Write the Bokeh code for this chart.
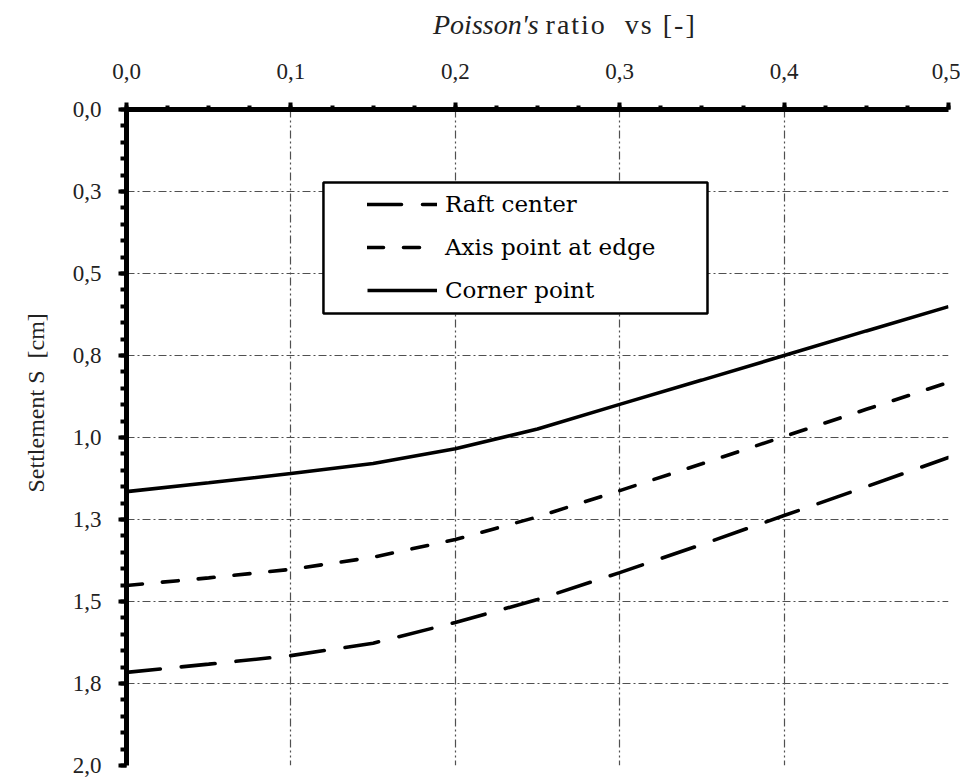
import math
from bokeh.plotting import figure
from bokeh.models import (Range1d, FixedTicker, Legend, LegendItem, BoxAnnotation, Div, Title)
from bokeh.layouts import column
from bokeh.embed import file_html
from bokeh.resources import INLINE

# ---- data ----
poisson = [0.0, 0.05, 0.1, 0.15, 0.2, 0.25, 0.3, 0.35, 0.4, 0.45, 0.5]
raft_center = [1.716, 1.691, 1.665, 1.627, 1.564, 1.494, 1.412, 1.326, 1.238, 1.150, 1.061]
axis_edge = [1.451, 1.428, 1.402, 1.365, 1.311, 1.242, 1.162, 1.080, 0.997, 0.914, 0.832]
corner_point = [1.165, 1.138, 1.110, 1.079, 1.034, 0.974, 0.899, 0.825, 0.750, 0.675, 0.601]

x_ticks = [0.0, 0.1, 0.2, 0.3, 0.4, 0.5]
x_tick_labels = ["0,0", "0,1", "0,2", "0,3", "0,4", "0,5"]
y_ticks = [0.0, 0.25, 0.5, 0.75, 1.0, 1.25, 1.5, 1.75, 2.0]
y_tick_labels = ["0,0", "0,3", "0,5", "0,8", "1,0", "1,3", "1,5", "1,8", "2,0"]
x_minor = [i * 0.025 for i in range(21)]
y_minor = [i * 0.05 for i in range(41)]

FONT = "Liberation Serif"
LEGEND_FONT = "DejaVu Serif"

p = figure(frame_width=822, frame_height=656,
           x_range=Range1d(0, 0.5), y_range=Range1d(2.0, 0.0),
           x_axis_location="above", y_axis_location="left",
           output_backend="svg", toolbar_location=None,
           min_border_left=126, min_border_top=54,
           min_border_right=12, min_border_bottom=14)
p.outline_line_color = None
p.background_fill_color = "white"

# axes
for ax, ticks, labels, minor in ((p.xaxis[0], x_ticks, x_tick_labels, x_minor),
                                 (p.yaxis[0], y_ticks, y_tick_labels, y_minor)):
    ax.ticker = FixedTicker(ticks=ticks, minor_ticks=minor)
    ax.major_label_overrides = {t: l for t, l in zip(ticks, labels)}
    ax.axis_line_width = 5
    ax.axis_line_color = "black"
    ax.major_tick_in = 0
    ax.minor_tick_in = 0
    ax.major_tick_line_width = 4
    ax.minor_tick_line_width = 4
    ax.major_tick_line_color = "black"
    ax.minor_tick_line_color = "black"
    ax.major_label_text_font = FONT
    ax.major_label_text_font_size = "23px"
    ax.major_label_text_color = "#222222"
    ax.axis_label = None

p.xaxis[0].major_tick_out = 7
p.xaxis[0].minor_tick_out = 4
p.xaxis[0].major_label_standoff = 24
p.yaxis[0].major_tick_out = 8
p.yaxis[0].minor_tick_out = 6
p.yaxis[0].major_label_standoff = 17

# grid
p.xgrid.ticker = FixedTicker(ticks=x_ticks)
p.ygrid.ticker = FixedTicker(ticks=y_ticks)
p.xgrid.grid_line_color = "#505050"
p.ygrid.grid_line_color = "#505050"
p.xgrid.grid_line_width = 1.2
p.ygrid.grid_line_width = 1.2
p.xgrid.grid_line_dash = "8 3 2 3 2 3"
p.ygrid.grid_line_dash = "8 3 2 3"

# series
r_raft = p.line(poisson, raft_center, line_color="black", line_width=3.6,
                line_dash="34 21", line_cap="round")
r_axis = p.line(poisson, axis_edge, line_color="black", line_width=3.6,
                line_dash="16 20", line_cap="round")
r_corner = p.line(poisson, corner_point, line_color="black", line_width=3.6)

# legend frame
box = BoxAnnotation(left=0.1198, right=0.3534, top=0.2226, bottom=0.622,
                    fill_color="white", fill_alpha=1.0,
                    line_color="black", line_width=2.5, line_alpha=1.0)
p.add_layout(box)

legend = Legend(items=[LegendItem(label="Raft center", renderers=[r_raft]),
                       LegendItem(label="Axis point at edge", renderers=[r_axis]),
                       LegendItem(label="Corner point", renderers=[r_corner])],
                location=(241, 462), orientation="vertical",
                border_line_color=None, background_fill_alpha=0.0,
                padding=0, margin=0, spacing=17,
                glyph_width=70, glyph_height=26, label_height=26,
                label_standoff=8,
                label_text_font=LEGEND_FONT, label_text_font_size="23px",
                label_text_color="black")
p.add_layout(legend)

# y axis title as a side-panel title
ytitle = Title(text="Settlement S\u00a0 [cm]", align="left", offset=273,
               vertical_align="middle", standoff=40,
               text_font=FONT, text_font_size="24px", text_font_style="normal",
               text_color="#222222")
p.add_layout(ytitle, "left")

# top title with italic "Poisson's"
title = Div(text="<i>Poisson's</i> <span style='letter-spacing:2px'>ratio&nbsp;&nbsp;vs [-]</span>",
            width=960, height=45,
            styles={"font-family": FONT, "font-size": "28px", "color": "#222222",
                    "padding-left": "428px", "padding-top": "4px",
                    "box-sizing": "border-box", "line-height": "32px",
                    "white-space": "nowrap"})

layout = column(title, p, spacing=0)
open("out.html", "w").write(file_html(layout, INLINE))
